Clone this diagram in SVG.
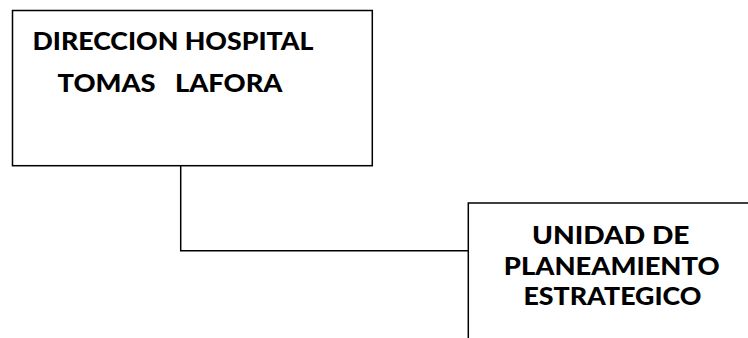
<svg xmlns="http://www.w3.org/2000/svg" width="748" height="338" viewBox="0 0 748 338">
<style>
.box{fill:#fff;stroke:#000;stroke-width:1.5}
.conn{fill:none;stroke:#000;stroke-width:1.5}
.t{font-family:Lato,"Open Sans","Liberation Sans",sans-serif;font-weight:900;font-size:24px;fill:#000;white-space:pre}
</style>
<rect width="748" height="338" fill="#fff"/>
<g id="connectors">
<polyline class="conn" points="180.7,165.7 180.7,250.7 468.3,250.7"/>
</g>
<g id="node-direccion">
<rect class="box" x="12.5" y="10.5" width="359.8" height="155.2"/>
<text class="t" x="32.5" y="49.5" textLength="281" lengthAdjust="spacingAndGlyphs">DIRECCION HOSPITAL</text>
<text class="t" x="57.5" y="92" textLength="225" lengthAdjust="spacingAndGlyphs" xml:space="preserve">TOMAS   LAFORA</text>
</g>
<g id="node-unidad">
<rect class="box" x="468.3" y="203" width="300" height="160"/>
<text class="t" x="532" y="244" textLength="157.5" lengthAdjust="spacingAndGlyphs">UNIDAD DE</text>
<text class="t" x="503.8" y="275" textLength="215.8" lengthAdjust="spacingAndGlyphs">PLANEAMIENTO</text>
<text class="t" x="523.5" y="305" textLength="178" lengthAdjust="spacingAndGlyphs">ESTRATEGICO</text>
</g>
</svg>
